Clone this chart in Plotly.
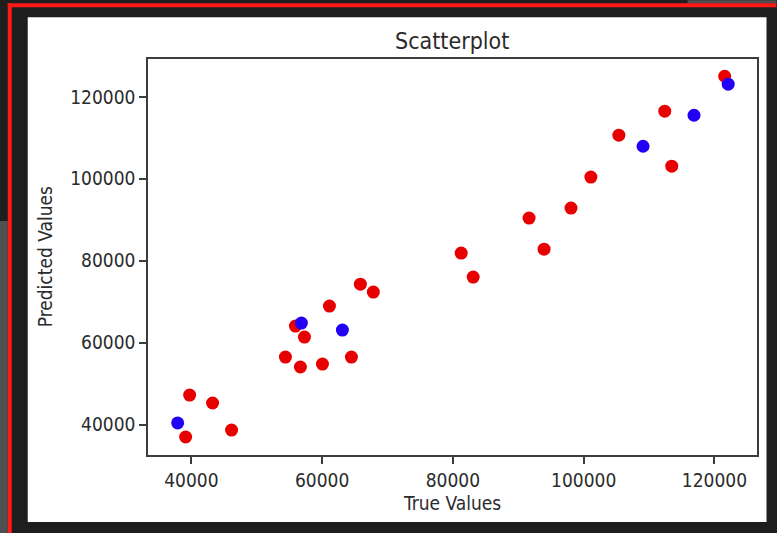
import plotly.graph_objects as go

# ---- data ----
red_true = [39130, 39740, 43250, 46150, 54390, 55920, 56680, 57300, 60050, 61120,
            64480, 65850, 67830, 81270, 83100, 91650, 93940, 98060, 101100, 105380,
            112400, 113470, 121560]
red_pred = [36950, 47200, 45250, 38650, 56470, 64040, 54040, 61360, 54770, 68920,
            56470, 74280, 72330, 81850, 76000, 90400, 82820, 92860, 100420, 110650,
            116500, 103080, 125040]
blue_true = [37910, 56830, 63100, 109080, 116870, 122100]
blue_pred = [40390, 64770, 63060, 107950, 115520, 123100]
x_ticks = [40000, 60000, 80000, 100000, 120000]
y_ticks = [40000, 60000, 80000, 100000, 120000]
title_text = "Scatterplot"
x_label = "True Values"
y_label = "Predicted Values"

# ---- layout geometry (pixels) ----
W, H = 777, 533
L, R, T, B = 148.3, 757.5, 58.8, 455.0
FONT = "DejaVu Sans Condensed, DejaVu Sans, sans-serif"
TXT = "#2b2b2b"
AX = "#3c3c3c"


def px(x):
    return (x - L) / (R - L)


def py(y):
    return (B - y) / (B - T)


fig = go.Figure()
fig.add_trace(go.Scatter(x=red_true, y=red_pred, mode="markers",
                         marker=dict(color="#e80000", size=13, line=dict(width=0)),
                         showlegend=False))
fig.add_trace(go.Scatter(x=blue_true, y=blue_pred, mode="markers",
                         marker=dict(color="#2200f5", size=13, line=dict(width=0)),
                         showlegend=False))

shapes = [
    # white panel
    dict(type="rect", xref="paper", yref="paper", x0=px(28), x1=px(767), y0=py(522), y1=py(17),
         fillcolor="white", line=dict(width=0), layer="below"),
    # gray patch left
    dict(type="rect", xref="paper", yref="paper", x0=px(0), x1=px(8), y0=py(533), y1=py(221),
         fillcolor="#505050", line=dict(width=0), layer="below"),
    # gray patch top right
    dict(type="rect", xref="paper", yref="paper", x0=px(688), x1=px(777), y0=py(3), y1=py(0),
         fillcolor="#505050", line=dict(width=0), layer="below"),
    # red border (left and top)
    dict(type="rect", xref="paper", yref="paper", x0=px(8), x1=px(12), y0=py(533), y1=py(3),
         fillcolor="#ff1a1a", line=dict(width=0), layer="below"),
    dict(type="rect", xref="paper", yref="paper", x0=px(8), x1=px(777), y0=py(7), y1=py(3),
         fillcolor="#ff1a1a", line=dict(width=0), layer="below"),
]

annotations = [
    dict(text=title_text, xref="paper", yref="paper", x=px(452.9), y=py(41),
         xanchor="center", yanchor="middle", showarrow=False,
         font=dict(family=FONT, size=23, color=TXT)),
    dict(text=x_label, xref="paper", yref="paper", x=px(452.9), y=py(503),
         xanchor="center", yanchor="middle", showarrow=False,
         font=dict(family=FONT, size=19, color=TXT)),
    dict(text=y_label, xref="paper", yref="paper", x=px(45.5), y=py(257),
         xanchor="center", yanchor="middle", showarrow=False, textangle=-90,
         font=dict(family=FONT, size=19, color=TXT)),
]

axis_common = dict(showgrid=False, zeroline=False, showline=True, mirror=True,
                   linecolor=AX, linewidth=1.5, ticks="outside", ticklen=7,
                   tickwidth=1.5, tickcolor=AX, tickformat="d",
                   tickfont=dict(family=FONT, size=19, color=TXT))

fig.update_layout(
    width=W, height=H,
    margin=dict(l=L, r=W - R, t=T, b=H - B, autoexpand=False),
    paper_bgcolor="#1e1e1e",
    plot_bgcolor="white",
    shapes=shapes,
    annotations=annotations,
    xaxis=dict(range=[33374, 126504], tickvals=x_ticks, **axis_common),
    yaxis=dict(range=[32557, 129250], tickvals=y_ticks, **axis_common),
)

fig.write_html("out.html")
